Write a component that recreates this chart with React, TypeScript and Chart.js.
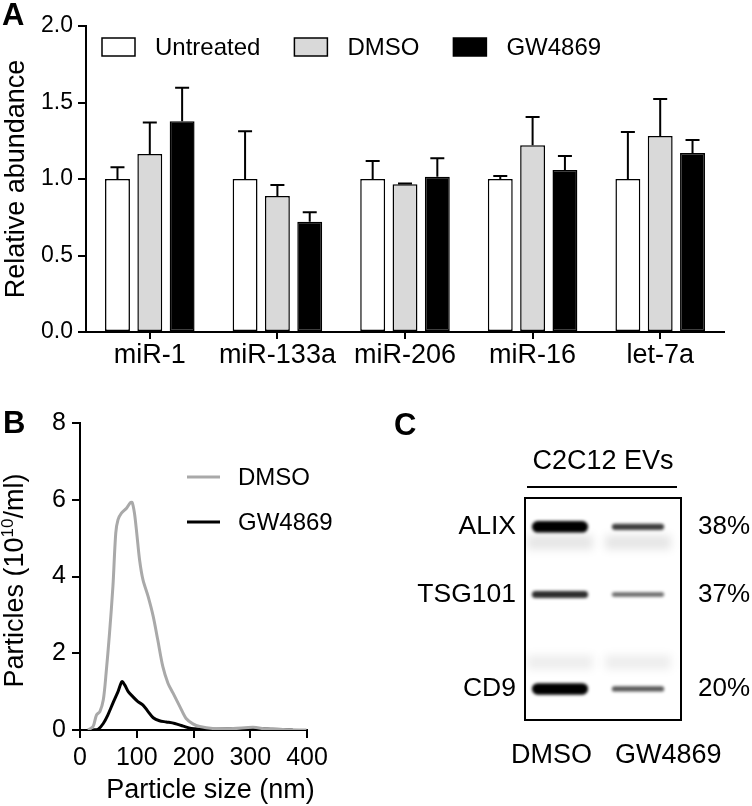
import React, { useEffect, useRef } from 'react';
import { Chart, registerables } from 'chart.js';

Chart.register(...registerables);

const FONT = '"Liberation Sans", Arial, Helvetica, sans-serif';

// ---------- Panel A data ----------
const categories = ['miR-1', 'miR-133a', 'miR-206', 'miR-16', 'let-7a'];
const untreatedMean = [1.0, 1.0, 1.0, 1.0, 1.0];
const untreatedSem = [0.076, 0.312, 0.118, 0.02, 0.307];
const dmsoMean = [1.163, 0.889, 0.965, 1.22, 1.281];
const dmsoSem = [0.207, 0.072, 0.006, 0.185, 0.242];
const gwMean = [1.377, 0.721, 1.015, 1.059, 1.17];
const gwSem = [0.22, 0.061, 0.12, 0.091, 0.085];
const seriesNamesA = ['Untreated', 'DMSO', 'GW4869'];

// ---------- Panel B data ----------
const dmsoSizeNm = [14, 23, 29, 35, 41, 46, 52, 58, 63, 67, 73, 82, 89, 92, 96, 100, 105, 111, 120, 129, 137, 146, 155, 164, 176, 187, 199, 211, 234, 270, 305, 328, 358, 399];
const dmsoParticles = [0, 0.09, 0.39, 0.48, 0.78, 1.48, 2.52, 3.74, 5.13, 5.48, 5.65, 5.78, 5.93, 5.93, 5.65, 5.13, 4.43, 3.91, 3.48, 2.96, 2.35, 1.65, 1.22, 0.96, 0.61, 0.3, 0.16, 0.09, 0.04, 0.04, 0.07, 0.03, 0.01, 0];
const gwSizeNm = [23, 32, 41, 49, 58, 67, 74, 79, 85, 93, 102, 111, 120, 129, 140, 152, 167, 182, 196, 223, 270, 305, 340, 375];
const gwParticles = [0, 0.02, 0.17, 0.39, 0.7, 1.0, 1.26, 1.17, 1.0, 0.87, 0.74, 0.65, 0.48, 0.32, 0.24, 0.21, 0.17, 0.1, 0.04, 0.02, 0.03, 0.04, 0.02, 0];
const seriesNamesB = ['DMSO', 'GW4869'];

// ---------- Panel C data ----------
const blotLanes = ['DMSO', 'GW4869'];
const blotProteins = ['ALIX', 'TSG101', 'CD9'];
const bandMobility = [0.13, 0.435, 0.86];
const bandIntensityDMSO = [1.0, 0.5, 1.0];
const bandIntensityGW = [0.42, 0.22, 0.3];
const retainedPct = ['38%', '37%', '20%'];
const smearMobility = [0.2, 0.74];
const smearIntensity = [0.1, 0.07];

const blackAxis = {
  color: '#000',
  lineWidth: 2,
};

export default function App() {
  const refA = useRef<HTMLCanvasElement>(null);
  const refB = useRef<HTMLCanvasElement>(null);
  const refC = useRef<HTMLCanvasElement>(null);

  useEffect(() => {
    Chart.defaults.font.family = FONT;
    Chart.defaults.color = '#000';

    // ---------------- Panel A ----------------
    const errorBars = {
      id: 'errorBars',
      afterDatasetsDraw(chart: any) {
        const ctx = chart.ctx;
        const y = chart.scales.y;
        chart.data.datasets.forEach((ds: any, di: number) => {
          const meta = chart.getDatasetMeta(di);
          meta.data.forEach((bar: any, i: number) => {
            const top = y.getPixelForValue(ds.data[i]);
            const end = y.getPixelForValue(ds.data[i] + ds.errors[i]);
            ctx.save();
            ctx.strokeStyle = '#000';
            ctx.lineWidth = 2;
            ctx.beginPath();
            ctx.moveTo(bar.x, top);
            ctx.lineTo(bar.x, end);
            ctx.moveTo(bar.x - 7, end);
            ctx.lineTo(bar.x + 7, end);
            ctx.stroke();
            ctx.restore();
          });
        });
      },
    };
    const legendA = {
      id: 'legendA',
      afterDraw(chart: any) {
        const ctx = chart.ctx;
        const { left, top } = chart.chartArea;
        ctx.save();
        ctx.font = `24px ${FONT}`;
        ctx.textBaseline = 'middle';
        ctx.textAlign = 'left';
        let x = left + 16;
        const by = top + 12;
        chart.data.datasets.forEach((ds: any) => {
          ctx.fillStyle = ds.backgroundColor;
          ctx.fillRect(x, by, 33, 18);
          ctx.strokeStyle = '#000';
          ctx.lineWidth = 1.5;
          ctx.strokeRect(x, by, 33, 18);
          ctx.fillStyle = '#000';
          ctx.fillText(ds.label, x + 53, by + 10);
          x += 53 + ctx.measureText(ds.label).width + 34;
        });
        ctx.font = `bold 31px ${FONT}`;
        ctx.textBaseline = 'alphabetic';
        ctx.fillText('A', 2, 25);
        ctx.restore();
      },
    };

    const mkBar = (label: string, data: number[], errors: number[], color: string) => ({
      label,
      data,
      errors,
      backgroundColor: color,
      borderColor: '#000',
      borderWidth: 1.5,
      borderSkipped: false,
      categoryPercentage: 0.76,
      barPercentage: 0.77,
    });

    const chartA = new Chart(refA.current!, {
      type: 'bar',
      data: {
        labels: categories,
        datasets: [
          mkBar(seriesNamesA[0], untreatedMean, untreatedSem, '#ffffff'),
          mkBar(seriesNamesA[1], dmsoMean, dmsoSem, '#d9d9d9'),
          mkBar(seriesNamesA[2], gwMean, gwSem, '#000000'),
        ] as any,
      },
      options: {
        animation: false,
        responsive: false,
        devicePixelRatio: 1,
        layout: { padding: { left: 0, top: 26, right: 28, bottom: 0 } },
        plugins: { legend: { display: false }, tooltip: { enabled: false } },
        scales: {
          x: {
            offset: true,
            afterFit: (s: any) => { s.height = 48; },
            grid: { display: true, drawOnChartArea: false, drawTicks: true, tickLength: 7, offset: false, ...blackAxis },
            border: { display: true, color: '#000', width: 2 },
            ticks: { font: { size: 27 }, padding: 0, color: '#000' },
          },
          y: {
            min: 0,
            max: 2,
            afterFit: (s: any) => { s.width = 86; },
            grid: { display: true, drawOnChartArea: false, drawTicks: true, tickLength: 8, ...blackAxis },
            border: { display: true, color: '#000', width: 2 },
            ticks: { stepSize: 0.5, font: { size: 23 }, padding: 5, color: '#000', callback: (v: any) => Number(v).toFixed(1) },
            title: { display: true, text: 'Relative abundance', font: { size: 27 }, padding: { top: 0, bottom: 0 }, color: '#000' },
          },
        },
      } as any,
      plugins: [errorBars, legendA],
    });

    // ---------------- Panel B ----------------
    const decorB = {
      id: 'decorB',
      afterDraw(chart: any) {
        const ctx = chart.ctx;
        const { left, right, top, bottom } = chart.chartArea;
        ctx.save();
        ctx.fillStyle = '#000';
        // panel letter
        ctx.font = `bold 31px ${FONT}`;
        ctx.textBaseline = 'alphabetic';
        ctx.textAlign = 'left';
        ctx.fillText('B', 3, 53);
        // legend
        ctx.font = `24px ${FONT}`;
        ctx.textBaseline = 'middle';
        chart.data.datasets.forEach((ds: any, i: number) => {
          const y = top + 54 + i * 45;
          ctx.strokeStyle = ds.borderColor;
          ctx.lineWidth = 3;
          ctx.beginPath();
          ctx.moveTo(left + 107, y);
          ctx.lineTo(left + 140, y);
          ctx.stroke();
          ctx.fillStyle = '#000';
          ctx.fillText(ds.label, left + 158, y + 1);
        });
        // x title
        ctx.font = `27px ${FONT}`;
        ctx.textAlign = 'center';
        ctx.textBaseline = 'alphabetic';
        ctx.fillText('Particle size (nm)', (left + right) / 2 + 17, bottom + 68);
        // y title with superscript
        const cy = (top + bottom) / 2 + 4;
        ctx.translate(23, cy);
        ctx.rotate(-Math.PI / 2);
        ctx.textAlign = 'left';
        const big = `27px ${FONT}`;
        const small = `17px ${FONT}`;
        const p1 = 'Particles (10';
        const p2 = '10';
        const p3 = '/ml)';
        ctx.font = big;
        const w1 = ctx.measureText(p1).width;
        const w3 = ctx.measureText(p3).width;
        ctx.font = small;
        const w2 = ctx.measureText(p2).width;
        const total = w1 + w2 + w3;
        let x = -total / 2;
        ctx.font = big;
        ctx.fillText(p1, x, 0);
        x += w1;
        ctx.font = small;
        ctx.fillText(p2, x, -10);
        x += w2;
        ctx.font = big;
        ctx.fillText(p3, x, 0);
        ctx.restore();
      },
    };

    const chartB = new Chart(refB.current!, {
      type: 'line',
      data: {
        datasets: [
          {
            label: seriesNamesB[0],
            data: dmsoSizeNm.map((x, i) => ({ x, y: dmsoParticles[i] })),
            borderColor: '#a9a9a9',
            borderWidth: 3,
            pointRadius: 0,
            tension: 0.3,
            fill: false,
          },
          {
            label: seriesNamesB[1],
            data: gwSizeNm.map((x, i) => ({ x, y: gwParticles[i] })),
            borderColor: '#000000',
            borderWidth: 3,
            pointRadius: 0,
            tension: 0.3,
            fill: false,
          },
        ],
      },
      options: {
        animation: false,
        responsive: false,
        devicePixelRatio: 1,
        layout: { padding: { left: 0, top: 43, right: 63, bottom: 0 } },
        plugins: { legend: { display: false }, tooltip: { enabled: false } },
        scales: {
          x: {
            type: 'linear',
            min: 0,
            max: 400,
            afterFit: (s: any) => { s.height = 76; },
            grid: { display: true, drawOnChartArea: false, drawTicks: true, tickLength: 8, ...blackAxis },
            border: { display: true, color: '#000', width: 2 },
            ticks: { stepSize: 100, font: { size: 25 }, padding: 5, color: '#000' },
          },
          y: {
            min: 0,
            max: 8,
            afterFit: (s: any) => { s.width = 80; },
            grid: { display: true, drawOnChartArea: false, drawTicks: true, tickLength: 8, ...blackAxis },
            border: { display: true, color: '#000', width: 2 },
            ticks: { stepSize: 2, font: { size: 25 }, padding: 6, color: '#000' },
          },
        },
      } as any,
      plugins: [decorB],
    });

    // ---------------- Panel C ----------------
    const blot = {
      id: 'blot',
      beforeDatasetsDraw(chart: any) {
        const ctx = chart.ctx;
        const { left, right, top, bottom } = chart.chartArea;
        const xs = chart.scales.x;
        const ys = chart.scales.y;
        const laneW = (right - left) / blotLanes.length;
        ctx.save();
        ctx.fillStyle = '#ffffff';
        ctx.fillRect(left, top, right - left, bottom - top);
        ctx.beginPath();
        ctx.rect(left, top, right - left, bottom - top);
        ctx.clip();
        // faint smears
        ctx.filter = 'blur(4px)';
        smearMobility.forEach((m, k) => {
          blotLanes.forEach((_, li) => {
            const cx = xs.getPixelForValue(li) - 4;
            const cy = ys.getPixelForValue(m);
            ctx.fillStyle = `rgba(0,0,0,${smearIntensity[k]})`;
            ctx.fillRect(cx - laneW * 0.42, cy - 7, laneW * 0.84, 14);
          });
        });
        // bands
        ctx.filter = 'blur(1.6px)';
        const lanesData = [bandIntensityDMSO, bandIntensityGW];
        lanesData.forEach((vals, li) => {
          const cx = xs.getPixelForValue(li) - 4;
          vals.forEach((v, pi) => {
            const cy = ys.getPixelForValue(bandMobility[pi]);
            const h = 2.5 + 9 * v;
            const w = laneW * (li === 0 ? 0.72 : 0.67);
            const a = Math.min(1, 0.4 + 0.85 * v);
            ctx.fillStyle = `rgba(0,0,0,${a})`;
            ctx.beginPath();
            (ctx as any).roundRect(cx - w / 2, cy - h / 2, w, h, h / 2);
            ctx.fill();
          });
        });
        ctx.filter = 'none';
        ctx.restore();
        // frame
        ctx.save();
        ctx.strokeStyle = '#000';
        ctx.lineWidth = 2;
        ctx.strokeRect(left, top, right - left, bottom - top);
        // header line and title
        ctx.beginPath();
        ctx.moveTo(left + 2, top - 11);
        ctx.lineTo(right - 4, top - 11);
        ctx.stroke();
        ctx.fillStyle = '#000';
        ctx.font = `27px ${FONT}`;
        ctx.textAlign = 'center';
        ctx.textBaseline = 'middle';
        ctx.fillText('C2C12 EVs', (left + right) / 2, top - 36);
        // lane labels
        ctx.textBaseline = 'alphabetic';
        blotLanes.forEach((name, li) => {
          const cx = xs.getPixelForValue(li);
          ctx.textAlign = li === 0 ? 'right' : 'left';
          ctx.fillText(name, li === 0 ? cx + 28 : cx - 27, bottom + 43);
        });
        // panel letter
        ctx.font = `bold 31px ${FONT}`;
        ctx.textAlign = 'left';
        ctx.fillText('C', 24, 55);
        ctx.restore();
      },
    };

    const setTicks = (s: any) => { s.ticks = bandMobility.map((v) => ({ value: v })); };

    const chartC = new Chart(refC.current!, {
      type: 'bar',
      data: { labels: blotLanes, datasets: [] },
      options: {
        animation: false,
        responsive: false,
        devicePixelRatio: 1,
        layout: { padding: { left: 0, top: 118, right: 0, bottom: 0 } },
        plugins: { legend: { display: false }, tooltip: { enabled: false } },
        scales: {
          x: {
            type: 'category',
            offset: true,
            afterFit: (s: any) => { s.height = 86; },
            grid: { display: false, drawTicks: false },
            border: { display: false },
            ticks: { display: false },
          },
          y: {
            type: 'linear',
            min: 0,
            max: 1,
            reverse: true,
            afterFit: (s: any) => { s.width = 155; },
            afterBuildTicks: setTicks,
            grid: { display: false, drawTicks: false, tickLength: 0 },
            border: { display: false },
            ticks: { font: { size: 26.5 }, padding: 9, color: '#000', callback: (_v: any, i: number) => blotProteins[i] },
          },
          y2: {
            type: 'linear',
            position: 'right',
            min: 0,
            max: 1,
            reverse: true,
            afterFit: (s: any) => { s.width = 71; },
            afterBuildTicks: setTicks,
            grid: { display: false, drawTicks: false, tickLength: 0 },
            border: { display: false },
            ticks: { font: { size: 26 }, padding: 17, color: '#000', callback: (_v: any, i: number) => retainedPct[i] },
          },
        },
      } as any,
      plugins: [blot],
    });

    return () => {
      chartA.destroy();
      chartB.destroy();
      chartC.destroy();
    };
  }, []);

  return (
    <div style={{ position: 'absolute', left: 0, top: 0, width: 752, height: 806, background: '#fff' }}>
      <canvas ref={refA} width={752} height={380} style={{ position: 'absolute', left: 0, top: 0, width: 752, height: 380 }} />
      <canvas ref={refB} width={370} height={426} style={{ position: 'absolute', left: 0, top: 380, width: 370, height: 426 }} />
      <canvas ref={refC} width={382} height={426} style={{ position: 'absolute', left: 370, top: 380, width: 382, height: 426 }} />
    </div>
  );
}
